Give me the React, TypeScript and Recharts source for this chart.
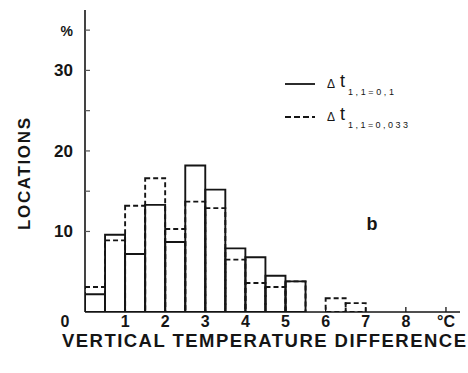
import React from 'react';
import { ComposedChart, Bar, XAxis, YAxis, Legend, Label } from 'recharts';

// Bin start values (°C), bins are 0.5 °C wide
const binStarts = [0, 0.5, 1, 1.5, 2, 2.5, 3, 3.5, 4, 4.5, 5, 5.5, 6, 6.5];
const binWidth = 0.5;
// Percent of locations, Δt = 0.1 (solid)
const solidPct = [2.2, 9.6, 7.2, 13.3, 8.7, 18.2, 15.2, 7.9, 6.8, 4.5, 3.8, 0, 0, 0];
// Percent of locations, Δt = 0.033 (dashed)
const dashedPct = [3.1, 8.9, 13.2, 16.6, 10.3, 13.7, 12.9, 6.5, 3.6, 3.1, 3.8, 0, 1.7, 1.1];

const xTicks = [0, 1, 2, 3, 4, 5, 6, 7, 8, 9];
const xTickLabels = ['0', '1', '2', '3', '4', '5', '6', '7', '8', '°C'];
const yTicks = [10, 15, 20, 25, 30, 35];
const yTickLabels: Record<number, string> = { 10: '10', 15: '', 20: '20', 25: '', 30: '30', 35: '%' };

const seriesNames = ['Δt 1,1=0,1', 'Δt 1,1=0,033'];
const legendSubs = ['1,1=0,1', '1,1=0,033'];

const data = binStarts.map((s, i) => ({
  mid: s + binWidth / 2,
  solid: solidPct[i],
  dashed: dashedPct[i],
}));

const INK = '#151515';
const FONT = '"Liberation Sans", Arial, Helvetica, sans-serif';

const XTick = (props: any) => {
  const { x, y, payload } = props;
  const v = payload.value as number;
  const idx = xTicks.indexOf(v);
  const label = xTickLabels[idx] ?? String(v);
  return (
    <g>
      {v !== 0 && <line x1={x} x2={x} y1={y} y2={y - 5} stroke={INK} strokeWidth={1.3} />}
      <text
        x={v === 0 ? x - 20 : x}
        y={y + 15}
        textAnchor="middle"
        fontFamily={FONT}
        fontWeight="bold"
        fontSize={16}
        fill={INK}
      >
        {label}
      </text>
    </g>
  );
};

const YTick = (props: any) => {
  const { x, y, payload } = props;
  const v = payload.value as number;
  const label = yTickLabels[v] ?? '';
  return (
    <g>
      <line x1={x} x2={x + 5} y1={y} y2={y} stroke="#555" strokeWidth={1.2} />
      {label && (
        <text
          x={x - 12}
          y={y + 6}
          textAnchor="end"
          fontFamily={FONT}
          fontWeight="bold"
          fontSize={v === 35 ? 14 : 17}
          fill={INK}
        >
          {label}
        </text>
      )}
    </g>
  );
};

const XTitle = (props: any) => {
  const vb = props.viewBox || { x: 85, y: 312, width: 375, height: 30 };
  return (
    <text
      x={vb.x - 23}
      y={vb.y + 35}
      fontFamily={FONT}
      fontWeight="bold"
      fontSize={18.5}
      fill={INK}
      textLength={404}
      lengthAdjust="spacing"
    >
      VERTICAL TEMPERATURE DIFFERENCE
    </text>
  );
};

const YTitle = (props: any) => {
  const vb = props.viewBox || { x: 25, y: 10, width: 60, height: 302 };
  const cx = vb.x - 1;
  const cy = vb.y + 164;
  return (
    <text
      x={cx}
      y={cy}
      transform={`rotate(-90 ${cx} ${cy})`}
      textAnchor="middle"
      dominantBaseline="central"
      fontFamily={FONT}
      fontWeight="bold"
      fontSize={17}
      fill={INK}
      textLength={112}
      lengthAdjust="spacing"
    >
      LOCATIONS
    </text>
  );
};

const LegendContent = (props: any) => {
  const payload = props.payload || [];
  return (
    <svg width={190} height={62} style={{ overflow: 'visible', display: 'block' }}>
      {payload.map((entry: any, i: number) => {
        const y = 14 + i * 33;
        const dashed = i === 1;
        return (
          <g key={i}>
            <line
              x1={5}
              x2={35}
              y1={y}
              y2={y}
              stroke={INK}
              strokeWidth={1.8}
              strokeDasharray={dashed ? '6 3' : undefined}
            />
            <text x={47} y={y + 4} fontFamily={FONT} fontSize={12} fill={INK}>
              Δ
            </text>
            <text x={60} y={y + 3} fontFamily={FONT} fontSize={18} fill={INK}>
              t
            </text>
            <text
              x={68}
              y={y + 11}
              fontFamily={FONT}
              fontSize={9}
              fill={INK}
              textLength={dashed ? 60 : 46}
              lengthAdjust="spacing"
            >
              {legendSubs[i]}
            </text>
          </g>
        );
      })}
    </svg>
  );
};

export default function App() {
  return (
    <div style={{ position: 'absolute', left: 0, top: 0, width: 468, height: 373, background: '#fff' }}>
      <ComposedChart
        width={468}
        height={373}
        data={data}
        margin={{ top: 10, right: 8, bottom: 31, left: 25 }}
      >
        <XAxis
          xAxisId="x"
          dataKey="mid"
          type="number"
          domain={[0, 9.35]}
          allowDataOverflow
          ticks={xTicks}
          interval={0}
          tick={<XTick />}
          tickLine={false}
          tickSize={0}
          tickMargin={0}
          axisLine={{ stroke: INK, strokeWidth: 1.6 }}
          height={30}
        >
          <Label content={<XTitle />} />
        </XAxis>
        <XAxis xAxisId="x2" dataKey="mid" type="number" domain={[0, 9.35]} allowDataOverflow hide />
        <YAxis
          type="number"
          domain={[0, 37.5]}
          allowDataOverflow
          ticks={yTicks}
          interval={0}
          tick={<YTick />}
          tickLine={false}
          tickSize={0}
          tickMargin={0}
          axisLine={{ stroke: INK, strokeWidth: 1.6 }}
          width={60}
        >
          <Label content={<YTitle />} />
        </YAxis>
        <Bar
          xAxisId="x"
          dataKey="solid"
          name={seriesNames[0]}
          fill="none"
          stroke={INK}
          strokeWidth={1.9}
          barSize={20}
          isAnimationActive={false}
        />
        <Bar
          xAxisId="x2"
          dataKey="dashed"
          name={seriesNames[1]}
          fill="none"
          stroke={INK}
          strokeWidth={1.9}
          strokeDasharray="5 3"
          barSize={20}
          isAnimationActive={false}
        />
        <Legend
          layout="horizontal"
          verticalAlign="middle"
          align="center"
          content={<LegendContent />}
          wrapperStyle={{ position: 'absolute', left: 280, top: 70, width: 190, height: 62 }}
        />
        <text x={372} y={230} textAnchor="middle" fontFamily={FONT} fontWeight="bold" fontSize={18} fill={INK}>
          b
        </text>
      </ComposedChart>
    </div>
  );
}
